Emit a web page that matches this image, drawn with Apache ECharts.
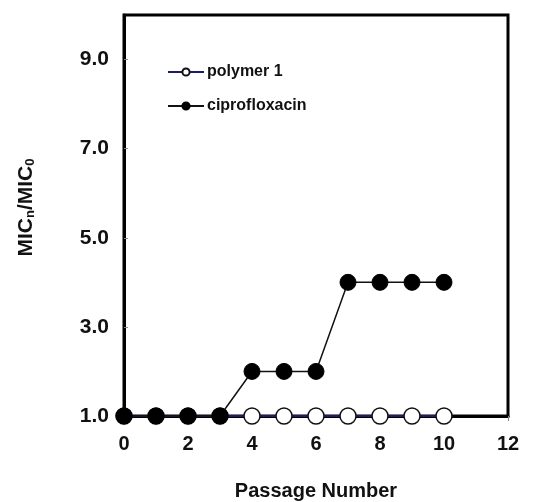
<!DOCTYPE html>
<html>
<head>
<meta charset="utf-8">
<script src="https://cdn.jsdelivr.net/npm/echarts@6/dist/echarts.min.js"></script>
<style>html,body{margin:0;padding:0;background:#fff;}#c{width:546px;height:502px;}</style>
</head>
<body>
<div id="c"></div>
<script>
var passages = [0, 1, 2, 3, 4, 5, 6, 7, 8, 9, 10];
var polymer1 = [1, 1, 1, 1, 1, 1, 1, 1, 1, 1, 1];
var ciprofloxacin = [1, 1, 1, 1, 2, 2, 2, 4, 4, 4, 4];
var yTicks = [1, 3, 5, 7, 9];
var seriesNames = ['polymer 1', 'ciprofloxacin'];

function pairs(xs, ys) { return xs.map(function (x, i) { return [x, ys[i]]; }); }

var FONT = '"Liberation Sans", Arial, sans-serif';
var chart = echarts.init(document.getElementById('c'), null, { renderer: 'canvas' });
chart.setOption({
  animation: false,
  backgroundColor: '#fff',
  grid: { left: 124, right: 38, top: 15, bottom: 86, outerBoundsMode: 'none', containLabel: false,
    show: true, borderColor: '#000', borderWidth: 3, backgroundColor: 'transparent' },
  legend: {
    orient: 'vertical', left: 162, top: 59, itemWidth: 36, itemHeight: 9, itemGap: 18,
    textStyle: { fontFamily: FONT, fontWeight: 'bold', fontSize: 16, color: '#111', padding: [0, 0, 0, -2] },
    data: seriesNames
  },
  xAxis: {
    type: 'value', min: 0, max: 12, interval: 2,
    name: 'Passage Number', nameLocation: 'middle', nameGap: 65,
    nameTextStyle: { fontFamily: FONT, fontWeight: 'bold', fontSize: 20, color: '#111' },
    axisLine: { lineStyle: { color: '#000', width: 3 } },
    axisTick: { inside: false, length: 5, lineStyle: { color: '#888', width: 1 } },
    axisLabel: { fontFamily: FONT, fontWeight: 'bold', fontSize: 20, color: '#111', margin: 18 },
    splitLine: { show: false }
  },
  yAxis: {
    type: 'value', min: 1, max: 10,
    name: '{m|MIC}{s|n}{m|/MIC}{s|0}', nameLocation: 'middle', nameGap: 87, nameRotate: 90,
    nameTextStyle: {
      fontFamily: FONT, fontWeight: 'bold', fontSize: 21, color: '#111', padding: [0, 0, 0, 16],
      rich: {
        m: { fontFamily: FONT, fontWeight: 'bold', fontSize: 21, color: '#111' },
        s: { fontFamily: FONT, fontWeight: 'bold', fontSize: 13, color: '#111', padding: [9, 0, 0, 0] }
      }
    },
    axisLine: { lineStyle: { color: '#000', width: 3 } },
    axisTick: { inside: true, length: 4, lineStyle: { color: '#888', width: 1 }, customValues: yTicks },
    axisLabel: { fontFamily: FONT, fontWeight: 'bold', fontSize: 21, color: '#111', margin: 15, customValues: yTicks,
      formatter: function (v) { return v.toFixed(1); } },
    splitLine: { show: false }
  },
  series: [
    {
      name: seriesNames[0], type: 'line', data: pairs(passages, polymer1), z: 2,
      symbol: 'circle', symbolSize: 16,
      lineStyle: { color: '#1c1c66', width: 2 },
      itemStyle: { color: '#fff', borderColor: '#111', borderWidth: 1.5 }
    },
    {
      name: seriesNames[1], type: 'line', data: pairs(passages, ciprofloxacin), z: 3,
      symbol: 'circle', symbolSize: 16,
      lineStyle: { color: '#111', width: 1.5 },
      itemStyle: { color: '#000', borderColor: '#000', borderWidth: 1 }
    }
  ]
});
</script>
</body>
</html>
